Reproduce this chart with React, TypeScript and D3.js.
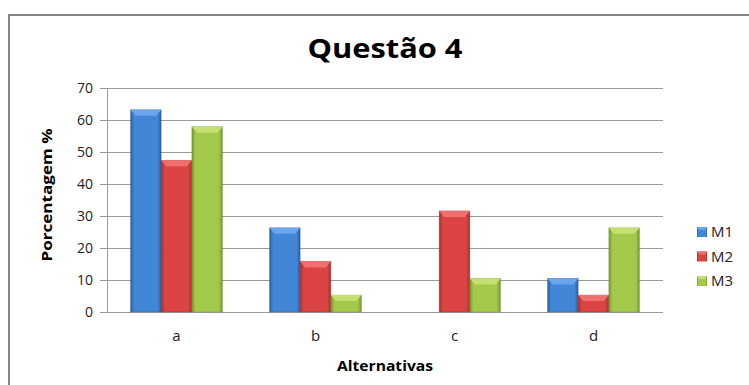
import React from "react";
import * as d3 from "d3";

const categories = ["a", "b", "c", "d"];
const seriesNames = ["M1", "M2", "M3"];
const M1 = [63.2, 26.3, 0, 10.5];
const M2 = [47.4, 15.8, 31.6, 5.3];
const M3 = [57.9, 5.3, 10.5, 26.3];
const yTicks = [0, 10, 20, 30, 40, 50, 60, 70];
const title = "Questão 4";
const yLabel = "Porcentagem %";
const xLabel = "Alternativas";

const seriesValues = [M1, M2, M3];
const palettes = [
  { mid: "#4286d8", edge: "#2b5e9f", top: "#6aa6ec", dark: "#244f88" },
  { mid: "#dc4444", edge: "#a52e2e", top: "#f07070", dark: "#8c2626" },
  { mid: "#a2c94a", edge: "#76962f", top: "#c4e070", dark: "#637d28" },
];

const W = 749;
const H = 385;
const plot = { left: 107, right: 663, top: 88, bottom: 312 };
const font = "'Open Sans', 'DejaVu Sans', sans-serif";

export default function App() {
  const x = d3.scaleBand<string>().domain(categories).range([plot.left, plot.right]).padding(0);
  const inner = d3
    .scaleBand<string>()
    .domain(seriesNames)
    .range([0, x.bandwidth()])
    .paddingInner(0)
    .paddingOuter(0.767);
  const y = d3.scaleLinear().domain([0, 70]).range([plot.bottom, plot.top]);
  const bw = inner.bandwidth();

  return (
    <svg
      width={W}
      height={H}
      style={{ position: "absolute", left: 0, top: 0, background: "#fff" }}
      fontFamily={font}
    >
      <defs>
        {palettes.map((p, i) => (
          <linearGradient key={i} id={`g${i}`} x1="0" x2="1" y1="0" y2="0">
            <stop offset="0" stopColor={p.edge} />
            <stop offset="0.12" stopColor={p.mid} />
            <stop offset="0.5" stopColor={p.mid} />
            <stop offset="0.88" stopColor={p.mid} />
            <stop offset="1" stopColor={p.edge} />
          </linearGradient>
        ))}
      </defs>
      <rect x={0} y={0} width={W} height={H} fill="#fff" />
      {/* outer frame */}
      <path d={`M9,${H} L9,15 L${W},15`} fill="none" stroke="#868686" strokeWidth={2} />

      <text
        x={385}
        y={58}
        textAnchor="middle"
        fontSize={26}
        fontWeight="bold"
        fill="#000"
        textLength={155}
        lengthAdjust="spacingAndGlyphs"
      >
        {title}
      </text>

      {/* gridlines */}
      {yTicks.map((t) => (
        <g key={t}>
          <line x1={plot.left - 7} x2={plot.right} y1={y(t) + 0.5} y2={y(t) + 0.5} stroke="#9a9a9a" strokeWidth={1} />
          <text x={93} y={y(t)} dy="0.36em" textAnchor="end" fontSize={14} fill="#222">
            {t}
          </text>
        </g>
      ))}
      <line x1={plot.left + 0.5} x2={plot.left + 0.5} y1={plot.top} y2={plot.bottom} stroke="#9a9a9a" />

      {/* bars */}
      {categories.map((c, ci) =>
        seriesNames.map((s, si) => {
          const v = seriesValues[si][ci];
          if (v <= 0) return null;
          const x0 = (x(c) as number) + (inner(s) as number);
          const y0 = y(v);
          const h = plot.bottom - y0;
          const p = palettes[si];
          const bev = Math.min(6, h / 2);
          return (
            <g key={`${c}-${s}`}>
              <rect x={x0} y={y0} width={bw} height={h} fill={`url(#g${si})`} stroke={p.dark} strokeOpacity={0.35} strokeWidth={0.8} />
              <polygon
                points={`${x0},${y0} ${x0 + bw},${y0} ${x0 + bw - 5},${y0 + bev} ${x0 + 5},${y0 + bev}`}
                fill={p.top}
              />
            </g>
          );
        })
      )}

      {/* x labels */}
      {categories.map((c) => (
        <text key={c} x={(x(c) as number) + x.bandwidth() / 2} y={341} textAnchor="middle" fontSize={15} fill="#222">
          {c}
        </text>
      ))}

      <text
        x={385}
        y={371}
        textAnchor="middle"
        fontSize={15}
        fontWeight="bold"
        fill="#000"
        textLength={96}
        lengthAdjust="spacingAndGlyphs"
      >
        {xLabel}
      </text>
      <text
        transform={`translate(52,${(plot.top + plot.bottom) / 2 - 5}) rotate(-90)`}
        textAnchor="middle"
        fontSize={15}
        fontWeight="bold"
        fill="#000"
        textLength={133}
        lengthAdjust="spacingAndGlyphs"
      >
        {yLabel}
      </text>

      {/* legend */}
      {seriesNames.map((s, i) => {
        const ly = 232 + i * 24.5;
        const p = palettes[i];
        return (
          <g key={s}>
            <rect x={697} y={ly - 5} width={10} height={10} fill={`url(#g${i})`} />
            <polygon points={`${697},${ly - 5} ${707},${ly - 5} ${705},${ly - 2} ${699},${ly - 2}`} fill={p.top} />
            <text x={711} y={ly} dy="0.36em" fontSize={15} fill="#222">
              {s}
            </text>
          </g>
        );
      })}
    </svg>
  );
}
